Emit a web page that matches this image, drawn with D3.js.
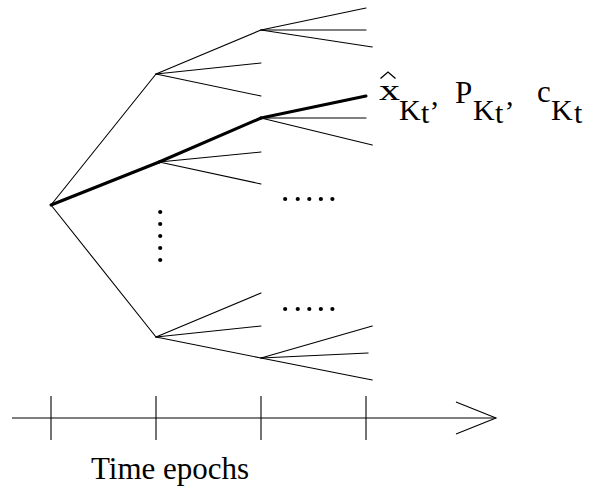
<!DOCTYPE html>
<html lang="en">
<head>
    <meta charset="UTF-8">
    <title>Tree</title>
    <script src="https://d3js.org/d3.v7.min.js"></script>
    <style>
        body { margin: 0; background: #fff; }
    </style>
</head>
<body>
<svg id="chart"></svg>
<script>
    // tree branches: [epoch0, state0, epoch1, state1, onBestPath]
    const branches = [
        [0, 205, 1, 74, 0], [0, 205, 1.03, 162, 1], [0, 205, 1, 337, 0],
        [1, 74, 2, 30, 0], [1, 74, 2, 63, 0], [1, 74, 2, 96, 0],
        [1.03, 162, 2, 118, 1], [1.03, 162, 2, 152, 0], [1.03, 162, 2, 184, 0],
        [1, 337, 2, 293, 0], [1, 337, 2, 326, 0], [1, 337, 2, 358, 0],
        [2, 30, 3, 8, 0], [2, 30, 3, 30, 0], [2, 30, 3.06, 47, 0],
        [2, 118, 3, 96, 1], [2, 118, 3, 118, 0], [2, 118, 3.06, 145, 0],
        [2, 358, 3.06, 326, 0], [2, 358, 3.02, 353, 0], [2, 358, 3.06, 380, 0]
    ];
    const epochs = [0, 1, 2, 3];
    // ellipsis dots: [epoch, state]
    const vDots = [[1.04, 212], [1.04, 224], [1.04, 236], [1.04, 248], [1.04, 260]];
    const hDots = [[2.23, 199], [2.35, 199], [2.46, 199], [2.57, 199], [2.68, 199],
                   [2.23, 309], [2.35, 309], [2.46, 309], [2.57, 309], [2.68, 309]];
    const axisLabel = 'Time epochs';

    const W = 597, H = 490;
    const svg = d3.select('#chart').attr('width', W).attr('height', H)
        .attr('font-family', 'Liberation Serif');
    const x = d3.scaleLinear().domain([0, 3]).range([51, 366]);
    const y = d3.scaleLinear().domain([0, 490]).range([0, 490]);

    svg.selectAll('line.branch').data(branches)
        .join('line')
        .attr('class', 'branch')
        .attr('x1', d => x(d[0])).attr('y1', d => y(d[1]))
        .attr('x2', d => x(d[2])).attr('y2', d => y(d[3]))
        .attr('stroke', '#000')
        .attr('stroke-width', d => d[4] ? 3 : 1.1)
        .attr('stroke-linecap', 'round');

    svg.selectAll('circle.dot').data(vDots.concat(hDots))
        .join('circle')
        .attr('class', 'dot')
        .attr('cx', d => x(d[0])).attr('cy', d => y(d[1]))
        .attr('r', 2.1).attr('fill', '#000');

    // time axis with arrow
    const axY = 418;
    svg.append('line').attr('x1', 12).attr('x2', 496).attr('y1', axY).attr('y2', axY)
        .attr('stroke', '#000').attr('stroke-width', 1.1);
    svg.append('path').attr('d', `M456,${axY - 16}L496,${axY}L456,${axY + 16}`)
        .attr('fill', 'none').attr('stroke', '#000').attr('stroke-width', 1.1);
    svg.selectAll('line.tick').data(epochs)
        .join('line')
        .attr('class', 'tick')
        .attr('x1', d => x(d)).attr('x2', d => x(d))
        .attr('y1', axY - 22).attr('y2', axY + 22)
        .attr('stroke', '#000').attr('stroke-width', 1.1);
    svg.append('text').attr('x', 91).attr('y', 478.5)
        .attr('font-size', 31).text(axisLabel);

    // label at the end of the best path
    const lab = svg.append('g');
    // hat accent over x
    lab.append('path').attr('d', 'M380.5,78.5L388,72L395.5,78.5')
        .attr('fill', 'none').attr('stroke', '#000').attr('stroke-width', 1.3);
    lab.append('text').attr('x', 379).attr('y', 100).attr('textLength', 21)
        .attr('lengthAdjust', 'spacingAndGlyphs')
        .attr('font-size', 30).text('x');
    const parts = [
        ['K', 399, 120, 30], ['t', 421, 123, 30], [',', 431, 105, 30],
        ['P', 455, 103, 31], ['K', 473, 120, 30], ['t', 495, 123, 30], [',', 506, 105, 30],
        ['c', 537, 102, 31], ['K', 551, 120, 30], ['t', 574, 123, 30]
    ];
    lab.selectAll('text.part').data(parts)
        .join('text')
        .attr('class', 'part')
        .attr('x', d => d[1]).attr('y', d => d[2])
        .attr('font-size', d => d[3])
        .text(d => d[0]);
</script>
</body>
</html>
